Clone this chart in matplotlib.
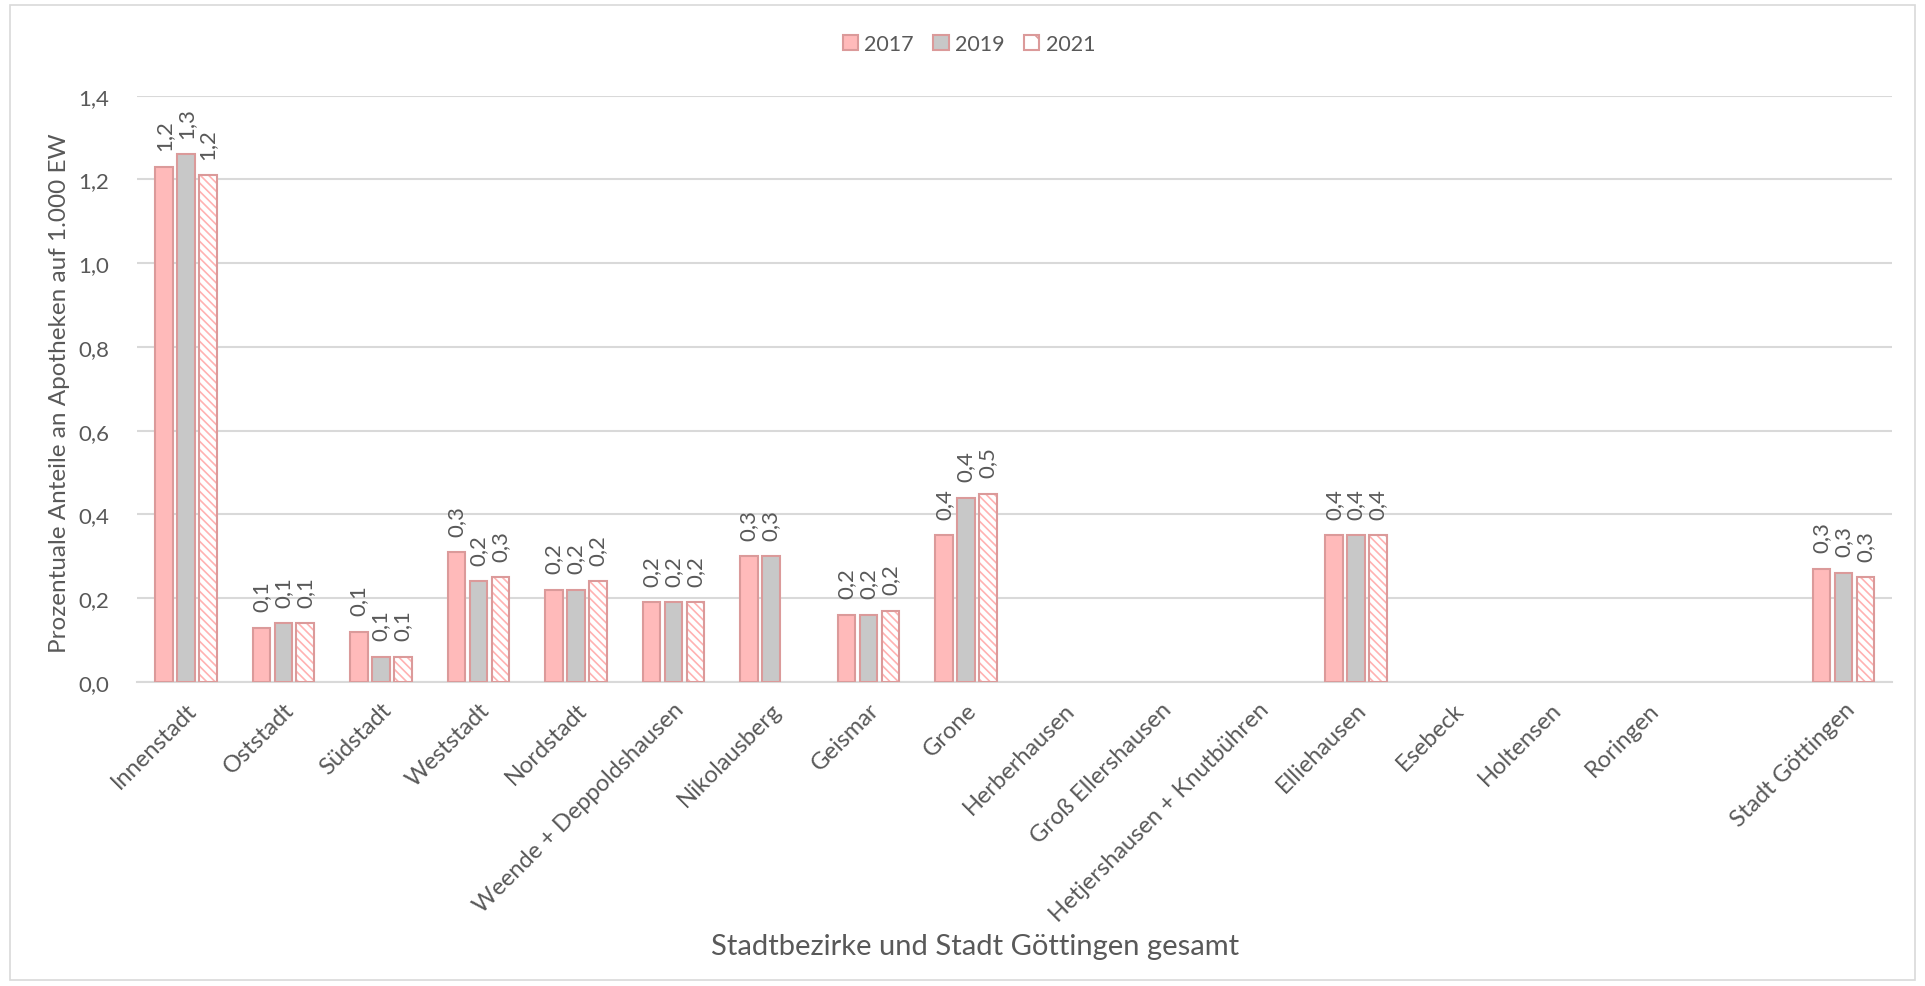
from decimal import Decimal, ROUND_HALF_UP
import numpy as np
import matplotlib.pyplot as plt
from matplotlib.patches import Patch, Rectangle

categories = ["Innenstadt", "Oststadt", "Südstadt", "Weststadt", "Nordstadt",
              "Weende + Deppoldshausen", "Nikolausberg", "Geismar", "Grone",
              "Herberhausen", "Groß Ellershausen", "Hetjershausen + Knutbühren",
              "Elliehausen", "Esebeck", "Holtensen", "Roringen", "", "Stadt Göttingen"]
nan = np.nan
v2017 = [1.23, 0.13, 0.12, 0.31, 0.22, 0.19, 0.30, 0.16, 0.35, nan, nan, nan, 0.35, nan, nan, nan, nan, 0.27]
v2019 = [1.26, 0.14, 0.06, 0.24, 0.22, 0.19, 0.30, 0.16, 0.44, nan, nan, nan, 0.35, nan, nan, nan, nan, 0.26]
v2021 = [1.21, 0.14, 0.06, 0.25, 0.24, 0.19, nan, 0.17, 0.45, nan, nan, nan, 0.35, nan, nan, nan, nan, 0.25]
years = ["2017", "2019", "2021"]
yticks = [0.0, 0.2, 0.4, 0.6, 0.8, 1.0, 1.2, 1.4]

plt.rcParams['font.family'] = ['Lato', 'DejaVu Sans']
txt = '#595959'
edge = '#DB9A9A'
pink = '#FFBABA'
gray = '#C8C8C8'
hatch_col = '#FFB2B2'
plt.rcParams['hatch.linewidth'] = 1.2


def fmt(v):
    d = Decimal(str(v)).quantize(Decimal('0.1'), rounding=ROUND_HALF_UP)
    return str(d).replace('.', ',')


fig = plt.figure(figsize=(19.25, 9.87), dpi=100)
ax = fig.add_axes([0.0712, 0.308, 0.9118, 0.594])

x = np.arange(len(categories))
w = 0.18
step = 0.225

ax.bar(x - step, v2017, w, color=pink, edgecolor=edge, linewidth=1.5, zorder=3)
ax.bar(x, v2019, w, color=gray, edgecolor=edge, linewidth=1.5, zorder=3)
ax.bar(x + step, v2021, w, color='white', edgecolor=hatch_col, hatch='\\\\\\\\', linewidth=0, zorder=3)
ax.bar(x + step, v2021, w, fill=False, edgecolor=edge, linewidth=1.5, zorder=4)

for off, vals in [(-step, v2017), (0, v2019), (step, v2021)]:
    for xi, v in zip(x, vals):
        if np.isnan(v):
            continue
        ax.annotate(fmt(v), (xi + off, v), xytext=(0, 12), textcoords='offset points',
                    rotation=90, ha='center', va='bottom', fontsize=16, color=txt)

ax.set_xlim(-0.5, len(categories) - 0.5)
ax.set_ylim(0, 1.4)
ax.set_yticks(yticks)
ax.set_yticklabels([f"{t:.1f}".replace('.', ',') for t in yticks], fontsize=16, color=txt)
ax.set_xticks(x)
ax.set_xticklabels(categories, rotation=45, ha='right', rotation_mode='anchor',
                   fontsize=17, color=txt)
ax.tick_params(axis='both', length=0)
ax.tick_params(axis='x', pad=12)
ax.tick_params(axis='y', pad=20)
ax.grid(axis='y', color='#D9D9D9', linewidth=1.5, zorder=0)
ax.set_axisbelow(True)
for s in ['top', 'right', 'left']:
    ax.spines[s].set_visible(False)
ax.spines['bottom'].set_color('#D9D9D9')
ax.spines['bottom'].set_linewidth(1.5)

ax.set_ylabel("Prozentuale Anteile an Apotheken auf 1.000 EW", fontsize=17.5, color=txt, va='center')
ax.yaxis.set_label_coords(-0.0444, 0.495)
fig.text(975 / 1925, 1 - 947 / 987, "Stadtbezirke und Stadt Göttingen gesamt",
         ha='center', va='center', fontsize=21, color=txt)

handles = [Patch(facecolor=pink, edgecolor=edge, linewidth=1.5),
           Patch(facecolor=gray, edgecolor=edge, linewidth=1.5),
           Patch(facecolor='white', edgecolor=edge, linewidth=1.5, hatch='\\')]
fig.legend(handles, years, loc='center', bbox_to_anchor=(969 / 1925, 1 - 45 / 987), ncol=3,
           frameon=False, fontsize=15.5, labelcolor=txt, handlelength=0.7, handleheight=0.7,
           handletextpad=0.3, columnspacing=0.9)

fig.patches.append(Rectangle((0.005, 0.006), 0.99, 0.988, transform=fig.transFigure,
                             fill=False, edgecolor='#D9D9D9', linewidth=1.2))

fig.savefig('out.png', dpi=100)
